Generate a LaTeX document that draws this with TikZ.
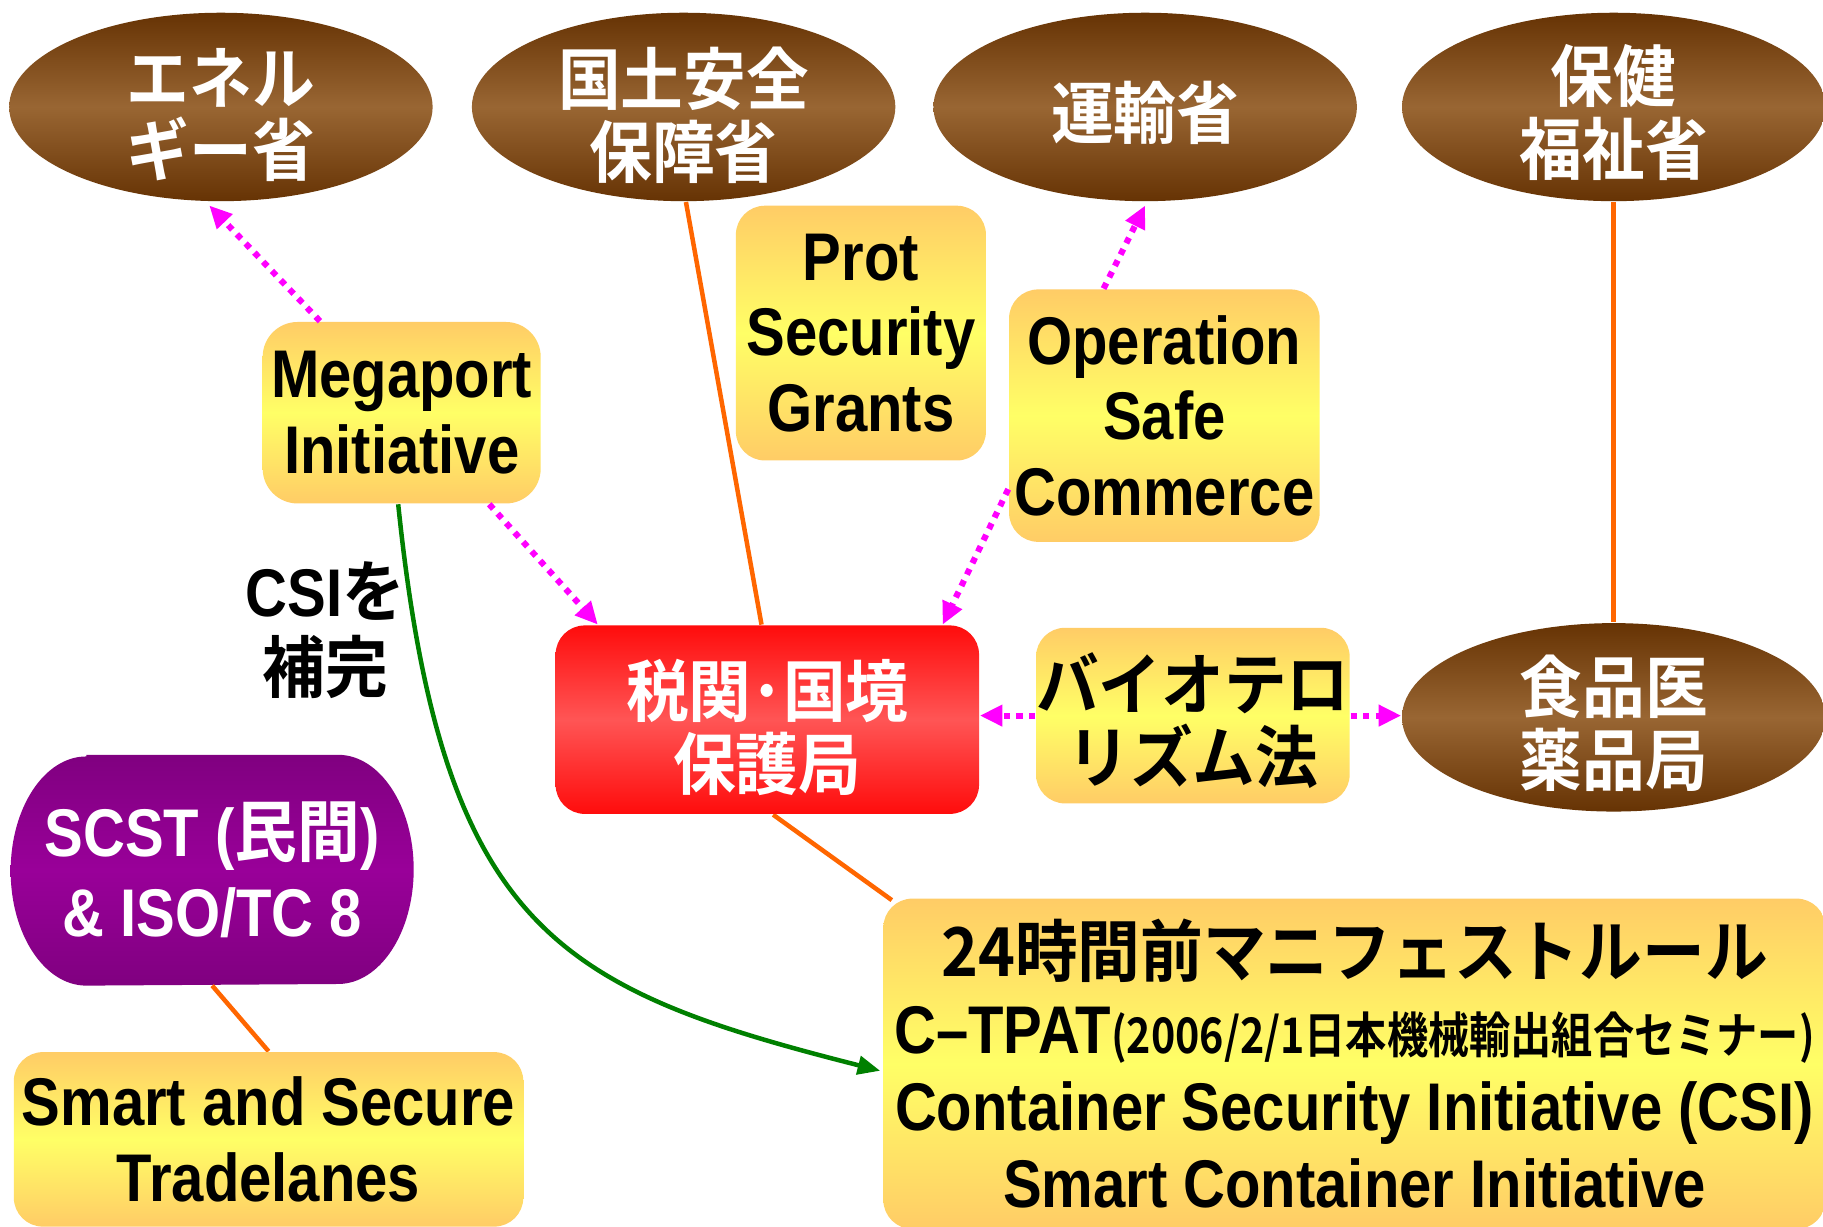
\documentclass[tikz,border=0pt]{standalone}
\usepackage{fontspec}
\usetikzlibrary{shapes.geometric,arrows.meta,calc,backgrounds}
\setmainfont{Noto Sans CJK JP Bold}
\newfontfamily\jp{Noto Sans CJK JP Bold}[FakeStretch=0.93]
\newfontfamily\jps{Noto Sans CJK JP Bold}[FakeStretch=0.84]
\newfontfamily\lat{Liberation Sans Bold}[FakeStretch=0.86]
\definecolor{brdark}{RGB}{102,51,4}
\definecolor{brmid}{RGB}{153,102,51}
\definecolor{yedge}{RGB}{255,204,102}
\definecolor{ymid}{RGB}{255,255,102}
\definecolor{redge}{RGB}{255,12,12}
\definecolor{rmid}{RGB}{255,85,85}
\definecolor{pedge}{RGB}{128,0,128}
\definecolor{pmid}{RGB}{153,0,153}
\definecolor{mag}{RGB}{255,0,255}
\definecolor{orl}{RGB}{255,102,0}
\definecolor{grn}{RGB}{0,128,0}
\pgfdeclarelayer{bottom}
\pgfsetlayers{bottom,background,main}
\begin{document}
\begin{tikzpicture}[x=0.01cm,y=-0.01cm,
 fJ/.style={font=\jp\fontsize{16.5}{17.8}\selectfont},
 fL/.style={font=\lat\fontsize{16.5}{18.5}\selectfont},
 base/.style={inner sep=0pt, align=center},
 ell/.style={inner sep=0pt, ellipse, minimum width=3.64cm, minimum height=1.62cm, top color=brdark, bottom color=brdark, middle color=brmid},
 etxt/.style={base, fJ, text=white},
 ybox/.style={base, rectangle, rounded corners=0.25cm, top color=yedge, bottom color=yedge, middle color=ymid, text=black},
 rbox/.style={base, fJ, rectangle, rounded corners=0.25cm, top color=redge, bottom color=redge, middle color=rmid, text=white},
 pshape/.style={top color=pedge, bottom color=pedge, middle color=pmid},
 magarr/.style={draw=mag, line width=1.5pt, dash pattern=on 1.5pt off 1.6pt, -{Triangle[length=5.5pt,width=5pt]}},
 orline/.style={draw=orl, line width=1.1pt},
 grarr/.style={draw=grn, line width=1.1pt, -{Triangle[length=5.5pt,width=4.5pt]}}
]
\begin{pgfonlayer}{bottom}
\fill[white] (0,0) rectangle (1568,1055);
\end{pgfonlayer}
\useasboundingbox (0,0) rectangle (1568,1055);

% ministries
\node[ell] (e1) at (190,92) {};
\node[etxt] (e1t) at ($(e1)+(0,7)$) {エネル\\ギー省};
\node[ell] (e2) at (588,92) {};
\node[etxt] (e2t) at ($(e2)+(0,7)$) {国土安全\\保障省};
\node[ell] (e3) at (985,92) {};
\node[etxt] (e3t) at ($(e3)+(0,5)$) {運輸省};
\node[ell] (e4) at (1388,92) {};
\node[etxt] (e4t) at ($(e4)+(0,5)$) {保健\\福祉省};
\node[ell] (e5) at (1388,617) {};
\node[etxt] (e5t) at ($(e5)+(0,5)$) {食品医\\薬品局};

% program boxes
\node[ybox, fL, minimum width=2.15cm, minimum height=2.19cm] (psg) at (740.5,286.5) {Prot\\Security\\Grants};
\node[ybox, fL, minimum width=2.67cm, minimum height=2.17cm] (osc) at (1001.5,357.5) {Operation\\Safe\\Commerce};
\node[ybox, fL, minimum width=2.39cm, minimum height=1.56cm, rounded corners=0.3cm] (meg) at (345.5,355) {Megaport\\Initiative};
\node[rbox, minimum width=3.64cm, minimum height=1.62cm] (cbp) at (660,619) {\rule{0pt}{0.62cm}税関･国境\\保護局};
\node[ybox, fJ, minimum width=2.68cm, minimum height=1.51cm] (bio) at (1026,615.5) {\rule{0pt}{0.58cm}バイオテロ\\リズム法};
\node[base, font=\lat\fontsize{16.5}{19.6}\selectfont, text=white, minimum width=3.45cm, minimum height=1.97cm] (scst) at (182.5,748.5) {SCST ({\jp 民間})\\\& ISO/TC 8};
\node[ybox, fL, minimum width=4.38cm, minimum height=1.50cm] (smart) at (231,980) {Smart and Secure\\Tradelanes};
\node[ybox, font=\lat\fontsize{16.5}{18.8}\selectfont, minimum width=8.10cm, minimum height=2.84cm] (big) at (1165,915)
 {{\jp 24時間前マニフェストルール}\\C–TPAT{\jps\fontsize{12}{18.8}\selectfont (2006/2/1日本機械輸出組合セミナー)}\\Container Security Initiative (CSI)\\Smart Container Initiative};
\node[base, fL, text=black] (csi) at (280,542) {CSI{\jp を}\\{\jp 補完}};

% purple rounded shape and solid connectors behind the boxes
\begin{scope}[on background layer]
 \path[pshape] ($(scst.north west)+(65,0)$) -- ($(scst.north east)+(-65,0)$)
   arc[start angle=90,end angle=-90,x radius=0.65cm,y radius=0.985cm]
   -- ($(scst.south west)+(65,0)$)
   arc[start angle=270,end angle=90,x radius=0.65cm,y radius=0.985cm] -- cycle;
 \draw[orline] ($(e2.south)+(2,0)$) -- ($(cbp.north)+(-5,0)$);
 \draw[orline] (e4.south) -- (e5.north);
 \draw[orline] ($(cbp.south)+(5,0)$) -- ($(big.north west)+(8,2)$);
 \draw[orline] (scst.south) -- (smart.north);
 \draw[grarr] ($(meg.south)+(-3,0)$) .. controls ($(meg.south)+(35,367)$) and ($(meg.south)+(135,417)$) .. ($(big.west)+(-2,6)$);
\end{scope}

% dotted magenta arrows
\draw[magarr] ($(meg.north west)+(50,0)$) -- ($(e1.south)+(-10,3)$);
\draw[magarr] ($(meg.south east)+(-45,0)$) -- ($(cbp.north west)+(37,0)$);
\draw[magarr] ($(osc.south west)+(0,-46)$) -- ($(cbp.north east)+(-32,0)$);
\draw[magarr] ($(osc.north west)+(82,0)$) -- ($(e3.south)+(0,3)$);
\draw[magarr] (bio.west) -- (bio.west -| cbp.east);
\draw[magarr] (bio.east) -- (bio.east -| e5.west);
\end{tikzpicture}
\end{document}
